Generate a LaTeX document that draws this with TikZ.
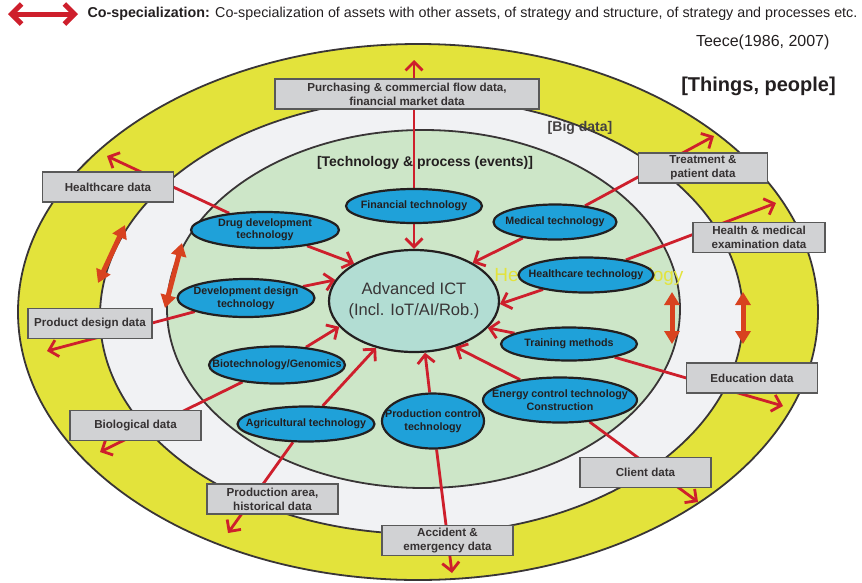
\documentclass[tikz,border=0pt]{standalone}
\usepackage{fontspec}
\setmainfont{Liberation Sans}
\usetikzlibrary{shapes.geometric,arrows.meta}
\definecolor{ringyellow}{HTML}{E3E33B}
\definecolor{ringgray}{HTML}{F1F2F4}
\definecolor{ringgreen}{HTML}{CDE6C8}
\definecolor{ictteal}{HTML}{B2DDD3}
\definecolor{techblue}{HTML}{1FA1D9}
\definecolor{boxgray}{HTML}{D1D2D4}
\definecolor{linkred}{HTML}{CE1F2C}
\definecolor{cospecorange}{HTML}{D8421F}
\definecolor{inkdark}{HTML}{231F20}
\pgfdeclarelayer{rings}
\pgfdeclarelayer{links}
\pgfsetlayers{rings,links,main}

\begin{document}
\begin{tikzpicture}[x=1pt,y=-1pt,
  ring/.style={draw=inkdark!90,line width=1.8pt},
  tech/.style 2 args={ellipse,draw=inkdark,line width=2.2pt,fill=techblue,inner sep=0pt,minimum width=#1,minimum height=#2},
  techtext/.style={font=\fontsize{10.7}{12.5}\selectfont\bfseries,text=inkdark,align=center,inner sep=0pt},
  databox/.style={rectangle,draw=black!65,line width=1.2pt,fill=boxgray,inner sep=0pt,minimum width=131pt,minimum height=30pt,font=\fontsize{11.6}{14}\selectfont\bfseries,text=inkdark!92,align=center},
  link/.style={linkred,line width=2.8pt,-{Straight Barb[length=8.5pt,width=17pt]}},
  cospec/.style={cospecorange,line width=5pt,{Triangle[length=13pt,width=15pt]}-{Triangle[length=13pt,width=15pt]}}]
\useasboundingbox (0,0) rectangle (862,582);

\begin{pgfonlayer}{rings}
\fill[ringyellow] (418,312) ellipse [x radius=400, y radius=268];
\draw[ring] (418,312) ellipse [x radius=400, y radius=268];
\fill[ringgray] (421.5,316) ellipse [x radius=321.5, y radius=218];
\draw[ring] (421.5,316) ellipse [x radius=321.5, y radius=218];
\fill[ringgreen] (423.5,309) ellipse [x radius=256.5, y radius=179];
\draw[ring] (423.5,309) ellipse [x radius=256.5, y radius=179];
\end{pgfonlayer}

\node[ellipse,draw=inkdark,line width=2.2pt,fill=ictteal,inner sep=0pt,minimum width=170pt,minimum height=102pt,
  label={[font=\fontsize{16.5}{21}\selectfont,text=inkdark!90,align=center]center:{Advanced ICT\\(Incl. IoT/AI/Rob.)}}] (ict) at (414,301) {};

\node[tech={136pt}{34pt},label={[techtext]center:Financial technology}] (fin) at (414,206) {};
\node[tech={148pt}{36pt},label={[techtext]center:{Drug development\\technology}}] (drug) at (265,230) {};
\node[tech={137pt}{38pt},label={[techtext]center:{Development design\\technology}}] (devdes) at (246,298) {};
\node[tech={136pt}{37pt},label={[techtext]center:Biotechnology/Genomics}] (biotech) at (277,365) {};
\node[tech={137pt}{35pt},label={[techtext]center:Agricultural technology}] (agri) at (306,424) {};
\node[tech={102pt}{55pt},label={[techtext]center:{Production control\\technology}}] (prodctl) at (433,421) {};
\node[tech={154pt}{45pt},label={[techtext]center:{Energy control technology\\Construction}}] (energy) at (560,400) {};
\node[tech={136pt}{33pt},label={[techtext]center:Training methods}] (training) at (569,344) {};
\node[tech={135pt}{35pt},label={[techtext]center:Healthcare technology}] (hctech) at (586,275) {};
\node[tech={123pt}{35pt},label={[techtext]center:Medical technology}] (medtech) at (555,222) {};

\node[databox,minimum width=264pt] (purch) at (407,94) {Purchasing \& commercial flow data,\\financial market data};
\node[databox] (hcdata) at (108,187) {Healthcare data};
\node[databox,minimum width=129pt] (treat) at (703,168) {Treatment \&\\patient data};
\node[databox,minimum width=132pt] (exam) at (759,237.5) {Health \& medical\\examination data};
\node[databox,minimum width=124pt] (proddes) at (90,323.5) {Product design data};
\node[databox] (edu) at (752,378) {Education data};
\node[databox] (bio) at (135.5,425.5) {Biological data};
\node[databox] (client) at (645.5,472.5) {Client data};
\node[databox] (prodarea) at (272.5,499) {Production area,\\historical data};
\node[databox] (accident) at (447.5,540.5) {Accident \&\\emergency data};

\node[font=\fontsize{14}{16}\selectfont\bfseries,text=inkdark] (techtitle) at (425,163) {[Technology \& process (events)]};
\node[font=\fontsize{14}{16}\selectfont\bfseries,text=inkdark!85] (bigdata) at (580,128) {[Big data]};
\node[font=\fontsize{20}{22}\selectfont\bfseries,text=inkdark] (things) at (758.5,86) {[Things, people]};
\node[anchor=east,font=\fontsize{16}{18}\selectfont,text=inkdark] (teece) at (833,42) {Teece(1986, 2007)};
\node[anchor=west,font=\fontsize{14.3}{16}\selectfont,text=inkdark] (legend) at (84,14)
  {\textbf{Co-specialization:} Co-specialization of assets with other assets, of strategy and structure, of strategy and processes etc.};
\coordinate (legl) at (8,14);
\coordinate (legr) at (78,14);

\coordinate (fintip) at (414,60);
\coordinate (drugtip) at (107,156);
\coordinate (medtip) at (714,136);
\coordinate (hctip) at (776,203);
\coordinate (traintip) at (783,406);
\coordinate (energytip) at (698,502);
\coordinate (prodtip) at (452,573);
\coordinate (agritip) at (228,533);
\coordinate (biotip) at (100,452);
\coordinate (devtip) at (47,351);

\begin{pgfonlayer}{links}
\node[font=\fontsize{19}{22}\selectfont,text=ringyellow] (ghost) at (589,277) {Healthcare technology};
\foreach \t/\a in {fin/90,drug/148,medtech/33,hctech/358,training/340,energy/312,prodctl/282,agri/231,biotech/199,devdes/165}
  \draw[link] (\t) -- (ict.\a);
\foreach \t/\o in {fin/fintip,drug/drugtip,medtech/medtip,hctech/hctip,training/traintip,energy/energytip,prodctl/prodtip,agri/agritip,biotech/biotip,devdes/devtip}
  \draw[link] (\t) -- (\o);
\draw[linkred,line width=5pt,{Straight Barb[length=10pt,width=20pt]}-{Straight Barb[length=10pt,width=20pt]}] (legl) -- (legr);
\draw[cospec] (98,283) -- (125,225);
\draw[cospec] (165,308) -- (182,243);
\draw[cospec] (672,292) -- (672,344);
\draw[cospec] (743,292) -- (743,344);
\end{pgfonlayer}
\end{tikzpicture}
\end{document}
